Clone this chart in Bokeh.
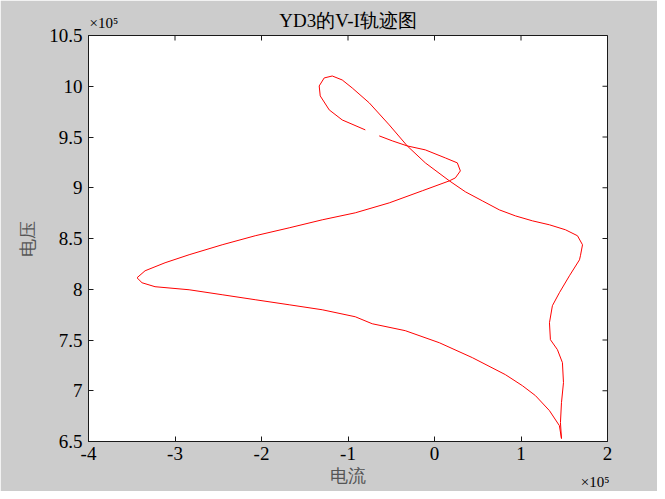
import math
from bokeh.plotting import figure
from bokeh.models import Label, FixedTicker, Range1d
from bokeh.embed import file_html
from bokeh.resources import INLINE

# V-I trajectory (units of 1e5)
current = [-0.800, -1.067, -1.217, -1.321, -1.333, -1.275, -1.182, -1.067, -0.951, -0.754,
           -0.523, -0.315, -0.106, 0.172, 0.357, 0.553, 0.750, 0.935, 1.132, 1.329,
           1.514, 1.653, 1.711, 1.687, 1.676, 1.560, 1.444, 1.363, 1.329, 1.340,
           1.421, 1.479, 1.491, 1.468, 1.456, 1.468,
           1.444, 1.329, 1.167, 1.016, 0.819, 0.438, 0.056, -0.338, -0.720, -0.916,
           -1.298, -1.680, -2.073, -2.455, -2.837, -3.231, -3.381, -3.439, -3.346, -3.115,
           -2.837, -2.455, -2.073, -1.680, -1.298, -0.916, -0.523, -0.141, 0.172, 0.241,
           0.299, 0.264, 0.125, -0.106, -0.315, -0.488, -0.639]
voltage = [9.570, 9.668, 9.767, 9.905, 10.003, 10.082, 10.101, 10.062, 9.983, 9.836,
           9.619, 9.412, 9.245, 9.068, 8.960, 8.871, 8.782, 8.723, 8.674, 8.635,
           8.586, 8.527, 8.438, 8.330, 8.290, 8.133, 7.966, 7.838, 7.670, 7.503,
           7.405, 7.277, 7.080, 6.883, 6.686, 6.529,
           6.656, 6.804, 6.952, 7.050, 7.159, 7.326, 7.473, 7.592, 7.660, 7.729,
           7.798, 7.847, 7.897, 7.946, 7.995, 8.025, 8.064, 8.113, 8.182, 8.261,
           8.340, 8.438, 8.527, 8.605, 8.684, 8.753, 8.851, 8.970, 9.068, 9.097,
           9.166, 9.245, 9.294, 9.373, 9.412, 9.462, 9.511]

x_ticks = [-4, -3, -2, -1, 0, 1, 2]
x_tick_labels = ["-4", "-3", "-2", "-1", "0", "1", "2"]
y_ticks = [6.5, 7, 7.5, 8, 8.5, 9, 9.5, 10, 10.5]
y_tick_labels = ["6.5", "7", "7.5", "8", "8.5", "9", "9.5", "10", "10.5"]

title_text = "YD3的V-I轨迹图"
x_label = "电流"
y_label = "电压"
exp_text = "×10⁵"

SERIF = "Liberation Serif"
AX = "#1a1a1a"

p = figure(width=657, height=491, output_backend="svg", toolbar_location=None,
           x_range=Range1d(-4, 2), y_range=Range1d(6.5, 10.5),
           min_border_left=88, min_border_right=50, min_border_top=35, min_border_bottom=50,
           x_axis_label=x_label, y_axis_label=y_label, title=title_text)

p.border_fill_color = "#cccccc"
p.background_fill_color = "white"
p.outline_line_color = AX
p.grid.visible = False

p.title.align = "center"
p.title.text_font = SERIF
p.title.text_font_size = "19px"
p.title.text_font_style = "normal"
p.title.text_color = "black"
try:
    p.title.standoff = -22
except Exception:
    p.title.standoff = 0

p.line(current, voltage, line_color="#ff0000", line_width=1)

for ax, ticks, labels in ((p.xaxis[0], x_ticks, x_tick_labels), (p.yaxis[0], y_ticks, y_tick_labels)):
    ax.ticker = FixedTicker(ticks=ticks)
    ax.major_label_overrides = {t: l for t, l in zip(ticks, labels)}
    ax.minor_tick_line_color = None
    ax.major_tick_in = 5
    ax.major_tick_out = 0
    ax.axis_line_color = AX
    ax.major_tick_line_color = AX
    ax.major_label_text_font = SERIF
    ax.major_label_text_font_size = "19px"
    ax.major_label_text_color = "black"
    ax.axis_label_text_font = SERIF
    ax.axis_label_text_font_size = "18px"
    ax.axis_label_text_font_style = "normal"
    ax.axis_label_text_color = "#555555"

p.xaxis[0].major_label_standoff = 5
p.xaxis[0].axis_label_standoff = 3
p.yaxis[0].major_label_standoff = 6
p.yaxis[0].axis_label_standoff = 8

# inward ticks on the top and right edges (half of each dash is clipped by the frame)
p.scatter(x=x_ticks, y=[y_ticks[-1]] * len(x_ticks), marker="dash", angle=math.pi / 2,
          size=10, line_color=AX, line_width=1)
p.scatter(x=[x_ticks[-1]] * len(y_ticks), y=y_ticks, marker="dash",
          size=10, line_color=AX, line_width=1)

# exponent labels live in side panels so that they are not clipped to the frame
p.add_layout(Label(x=x_ticks[0], y=y_ticks[-1], x_offset=1, y_offset=5, text=exp_text,
                   text_align="left", text_baseline="bottom", text_font=SERIF,
                   text_font_size="15px", text_color="black"), "above")
p.add_layout(Label(x=x_ticks[-1], y=y_ticks[0], x_offset=2, y_offset=-32, text=exp_text,
                   text_align="right", text_baseline="top", text_font=SERIF,
                   text_font_size="15px", text_color="black"), "right")

open("out.html", "w").write(file_html(p, INLINE))
